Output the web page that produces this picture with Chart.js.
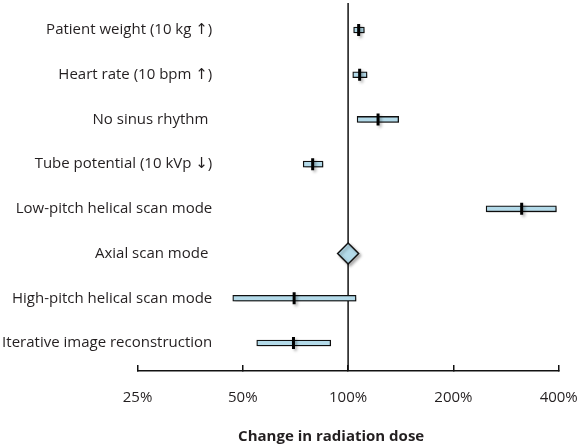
<!DOCTYPE html>
<html>
<head>
<meta charset="utf-8">
<script src="https://cdn.jsdelivr.net/npm/chart.js@4/dist/chart.umd.min.js"></script>
<style>
  html, body { margin: 0; padding: 0; background: #ffffff; }
  #wrap { width: 583px; height: 446px; position: relative; }
</style>
</head>
<body>
<div id="wrap"><canvas id="c" width="583" height="446"></canvas></div>
<script>
// ---- data ----
const categories = [
  "Patient weight (10 kg \u2191)",
  "Heart rate (10 bpm \u2191)",
  "No sinus rhythm ",
  "Tube potential (10 kVp \u2193)",
  "Low-pitch helical scan mode",
  "Axial scan mode ",
  "High-pitch helical scan mode",
  "Iterative image reconstruction"
];
const lowerCI  = [1.037, 1.031, 1.061, 0.744, 2.48, null, 0.468, 0.548];
const estimate = [1.072, 1.079, 1.218, 0.792, 3.135, 1.00, 0.701, 0.698];
const upperCI  = [1.113, 1.133, 1.395, 0.848, 3.94, null, 1.054, 0.892];
const referenceIndex = 5; // Axial scan mode = reference (100%)
const tickValues = [0.25, 0.5, 1, 2, 4];
const tickLabels = ["25%", "50%", "100%", "200%", "400%"];
const axisTitle = "Change in radiation dose";

// ---- build datasets from arrays ----
const barData = [];
const markData = [];
categories.forEach((c, i) => {
  if (lowerCI[i] != null && upperCI[i] != null) {
    barData.push({ y: i, x: [lowerCI[i], upperCI[i]] });
    markData.push({ y: i, x: estimate[i] });
  }
});
const refData = [{ y: referenceIndex, x: estimate[referenceIndex] }];

const FONT = "'Open Sans', 'DejaVu Sans', sans-serif";
const TXT = "#231f20";

const shadowPlugin = {
  id: 'shadow',
  beforeDatasetDraw(chart) {
    const ctx = chart.ctx;
    ctx.save();
    ctx.shadowColor = 'rgba(0,0,0,0.30)';
    ctx.shadowBlur = 3;
    ctx.shadowOffsetX = 2;
    ctx.shadowOffsetY = 2;
  },
  afterDatasetDraw(chart) {
    chart.ctx.restore();
  }
};

new Chart(document.getElementById('c'), {
  type: 'bar',
  data: {
    datasets: [
      {
        type: 'bar',
        label: 'CI',
        data: barData,
        backgroundColor: '#b3dae9',
        borderColor: '#111111',
        borderWidth: 1.3,
        borderSkipped: false,
        barThickness: 6,
        order: 3
      },
      {
        type: 'scatter',
        label: 'Estimate',
        data: markData,
        pointStyle: 'line',
        rotation: 90,
        pointRadius: 6,
        pointHoverRadius: 6,
        borderWidth: 3,
        borderColor: '#000000',
        order: 1
      },
      {
        type: 'scatter',
        label: 'Reference',
        data: refData,
        pointStyle: 'rectRot',
        pointRadius: 10.5,
        pointHoverRadius: 10.5,
        backgroundColor: '#b3dae9',
        borderColor: '#111111',
        borderWidth: 1.5,
        order: 2
      }
    ]
  },
  options: {
    indexAxis: 'y',
    responsive: false,
    animation: false,
    events: [],
    layout: { autoPadding: false, padding: { left: 137.5, right: 24.3, top: 3, bottom: 0 } },
    plugins: {
      legend: { display: false },
      tooltip: { enabled: false },
      title: { display: false }
    },
    scales: {
      x: {
        type: 'logarithmic',
        position: 'bottom',
        min: 0.25,
        max: 4,
        afterBuildTicks(scale) {
          scale.ticks = tickValues.map(v => ({ value: v }));
        },
        afterFit(scale) {
          scale.height = 75;
          scale.paddingLeft = 0;
          scale.paddingRight = 0;
        },
        ticks: {
          autoSkip: false,
          maxRotation: 0,
          padding: 24,
          color: TXT,
          font: { family: FONT, size: 15 },
          callback: (v) => {
            const k = tickValues.indexOf(v);
            return k >= 0 ? tickLabels[k] : '';
          }
        },
        grid: {
          drawOnChartArea: false,
          drawTicks: true,
          tickLength: -6,
          color: '#111111',
          lineWidth: 1.5
        },
        border: { display: true, color: '#111111', width: 1.5 },
        title: {
          display: true,
          text: axisTitle + '\u2002\u2002\u2002\u2002 ',
          color: TXT,
          font: { family: FONT, size: 15, weight: 'bold' },
          padding: { top: 4, bottom: 0 }
        }
      },
      y: {
        type: 'linear',
        reverse: true,
        offset: false,
        min: -0.604,
        max: 7.627,
        position: { x: 0.409 },
        afterBuildTicks(scale) {
          scale.ticks = categories.map((c, i) => ({ value: i }));
        },
        afterFit(scale) {
          scale.paddingTop = 0;
          scale.paddingBottom = 0;
        },
        ticks: {
          autoSkip: false,
          padding: 0,
          color: TXT,
          font: { family: FONT, size: 15 },
          callback: (v) => categories[v] !== undefined ? categories[v] : ''
        },
        grid: { display: false, drawTicks: false },
        border: { display: false }
      }
    }
  },
  plugins: [shadowPlugin, {
    id: 'refLine',
    beforeDatasetsDraw(chart) {
      const { ctx, chartArea, scales } = chart;
      const xp = scales.x.getPixelForValue(estimate[referenceIndex]);
      ctx.save();
      ctx.strokeStyle = '#111111';
      ctx.lineWidth = 1.5;
      ctx.beginPath();
      ctx.moveTo(xp, chartArea.top);
      ctx.lineTo(xp, chartArea.bottom);
      ctx.stroke();
      ctx.restore();
    }
  }]
});
</script>
</body>
</html>
